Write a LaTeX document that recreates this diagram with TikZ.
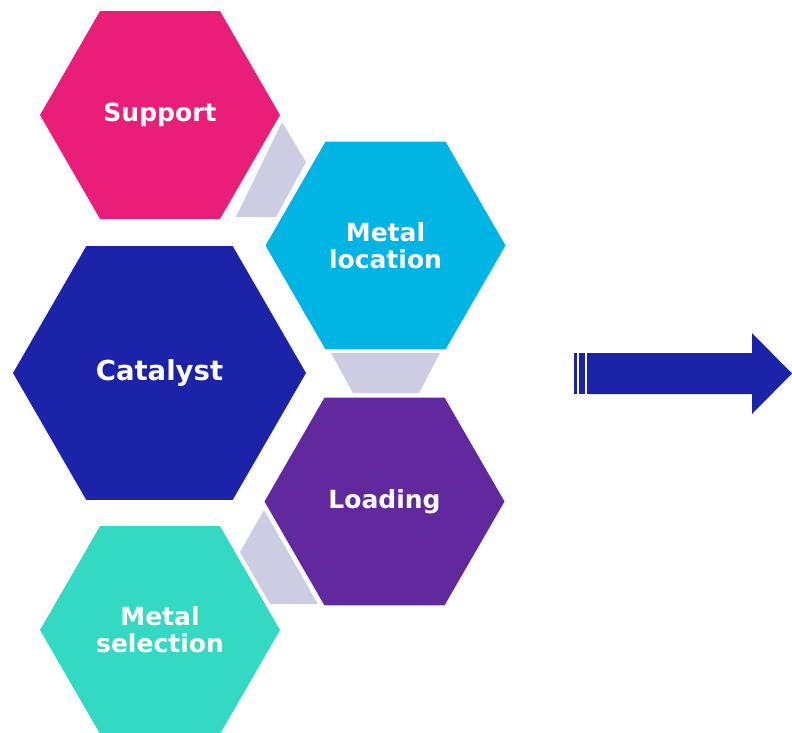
\documentclass[tikz,border=0pt]{standalone}
\usepackage{fontspec}
\setmainfont{DejaVu Sans}
\usetikzlibrary{shapes.geometric}

\definecolor{cpink}{RGB}{233,30,121}
\definecolor{ccyan}{RGB}{0,180,228}
\definecolor{cnavy}{RGB}{27,36,168}
\definecolor{cpurple}{RGB}{98,40,158}
\definecolor{cteal}{RGB}{51,217,195}
\definecolor{clink}{RGB}{204,204,226}

\tikzset{
  hexcell/.style={regular polygon, regular polygon sides=6, inner sep=0pt,
    outer sep=0pt, draw=none, text=white, align=center,
    preaction={draw=white, line width=4pt},
    font=\bfseries\fontsize{25}{27}\selectfont},
  bighex/.style={hexcell, font=\bfseries\fontsize{27.5}{30}\selectfont},
  linkshape/.style={fill=clink, draw=none},
  flow/.style={fill=cnavy, draw=none}
}

\begin{document}
\begin{tikzpicture}[x=1pt, y=-1pt]
  \useasboundingbox (0,0) rectangle (792,732);

  % linking shapes between neighbouring cells (cells are laid over them)
  \fill[linkshape] (282,122) -- (306,162) -- (276,217) -- (236,217) -- cycle;
  \fill[linkshape] (331,353) -- (440,353) -- (419,393) -- (353,393) -- cycle;
  \fill[linkshape] (264,510) -- (240,552) -- (270,604) -- (318,604) -- cycle;

  % hexagon cluster
  \node[hexcell, fill=cpink, minimum size=240pt] (support) at (160,115) {Support};
  \node[hexcell, fill=ccyan, minimum size=240pt] (location) at (385.5,245.5) {Metal\\location};
  \node[bighex, fill=cnavy, minimum size=293pt] (catalyst) at (159.5,373) {Catalyst};
  \node[hexcell, fill=cpurple, minimum size=240pt] (loading) at (384.5,501.5) {Loading};
  \node[hexcell, fill=cteal, minimum size=240pt] (selection) at (160,630) {Metal\\selection};

  % outgoing arrow
  \fill[flow] (574,353) rectangle (577,394);
  \fill[flow] (579,353) rectangle (585,394);
  \fill[flow] (587,353) -- (752,353) -- (752,333) -- (792,373.5)
              -- (752,414) -- (752,394) -- (587,394) -- cycle;
\end{tikzpicture}
\end{document}
